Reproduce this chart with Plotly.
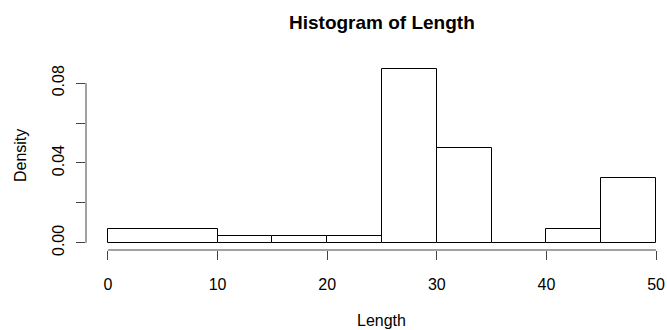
import plotly.graph_objects as go

# Histogram bins (edges) and densities
bin_left = [0, 10, 15, 20, 25, 30, 35, 40, 45]
bin_right = [10, 15, 20, 25, 30, 35, 40, 45, 50]
density = [0.0070, 0.0033, 0.0033, 0.0033, 0.0872, 0.0473, 0.0001, 0.0071, 0.0324]

x_ticks = [0, 10, 20, 30, 40, 50]
y_ticks = [0.0, 0.02, 0.04, 0.06, 0.08]
y_tick_text = ["0.00", "", "0.04", "", "0.08"]

title_text = "Histogram of Length"
x_title = "Length"
y_title = "Density"

centers = [(a + b) / 2 for a, b in zip(bin_left, bin_right)]
widths = [b - a for a, b in zip(bin_left, bin_right)]

FONT = "Liberation Sans, Arial, Helvetica, sans-serif"
AXC = "#444444"
W, H = 667, 330
ML, MR, MT, MB = 86.4, 0, 61.5, 79.5
PH = H - MT - MB

def py(pix):
    # pixel row -> paper y
    return (H - MB - pix) / PH

def px(pix):
    return (pix - ML) / (W - ML - MR)

fig = go.Figure()
fig.add_trace(go.Bar(
    x=centers, y=density, width=widths,
    marker=dict(color="white", line=dict(color="black", width=1)),
    hoverinfo="skip",
))

shapes = [
    dict(type="line", xref="x", yref="paper", x0=x_ticks[0], x1=x_ticks[-1], y0=0, y1=0,
         line=dict(color=AXC, width=1)),
    dict(type="line", xref="paper", yref="y", x0=0, x1=0, y0=y_ticks[0], y1=y_ticks[-1],
         line=dict(color=AXC, width=1)),
]

annotations = [
    dict(text="<b>%s</b>" % title_text, xref="x", yref="paper", x=25, y=py(21.8), xanchor="center",
         yanchor="middle", showarrow=False, font=dict(family=FONT, size=19, color="black")),
    dict(text=x_title, xref="x", yref="paper", x=25, y=py(321.5), xanchor="center",
         yanchor="middle", showarrow=False, font=dict(family=FONT, size=16, color="black")),
    dict(text=y_title, xref="paper", yref="paper", x=px(20.5), y=0.5, xanchor="center",
         yanchor="middle", textangle=-90, showarrow=False, font=dict(family=FONT, size=16, color="black")),
]

fig.update_layout(
    width=W, height=H,
    margin=dict(l=ML, r=MR, t=MT, b=MB, pad=0),
    paper_bgcolor="white", plot_bgcolor="white",
    showlegend=False,
    bargap=0,
    font=dict(family=FONT, size=16, color="black"),
    shapes=shapes,
    annotations=annotations,
    xaxis=dict(range=[-2, 51.0], tickvals=x_ticks, ticks="outside", ticklen=9, tickcolor=AXC,
               showline=False, showgrid=False, zeroline=False, ticklabelstandoff=11,
               automargin=False, tickfont=dict(size=16)),
    yaxis=dict(range=[-0.00359, 0.09056], tickvals=y_ticks, ticktext=y_tick_text, ticks="outside",
               ticklen=9, tickcolor=AXC, tickangle=-90, showline=False, showgrid=False, zeroline=False,
               ticklabelstandoff=6, automargin=False, tickfont=dict(size=16)),
)

fig.write_html("out.html", config={"displayModeBar": False},
               post_script="document.body.style.margin='0px';")
